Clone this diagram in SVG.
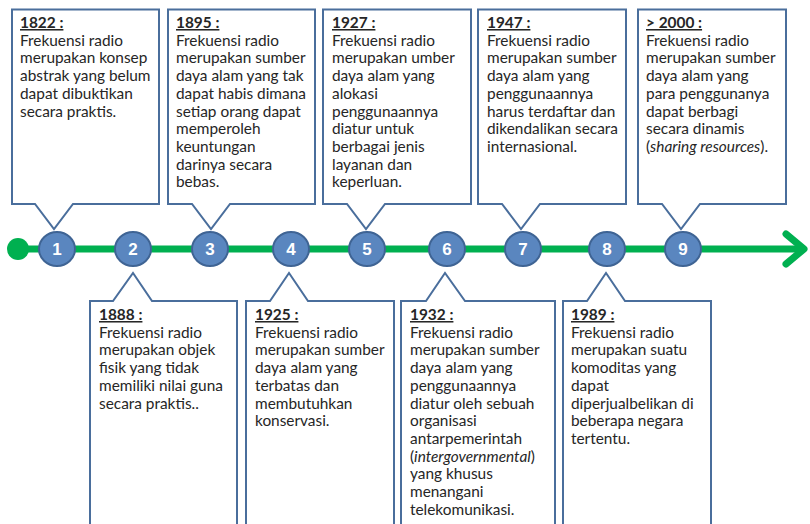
<svg xmlns="http://www.w3.org/2000/svg" width="810" height="524" viewBox="0 0 810 524">
<style>
.box{fill:#fff;stroke:#4a6e9c;stroke-width:2}
.t{font-family:Lato,"Liberation Sans",sans-serif;font-size:15.4px;fill:#262626}
.h{font-weight:bold;text-decoration:underline}
.c{fill:#5a86bf;stroke:#3f6494;stroke-width:2}
.n{font-family:"Liberation Sans",Arial,sans-serif;font-size:17px;font-weight:bold;fill:#fff;text-anchor:middle}
</style>
<rect width="810" height="524" fill="#fff"/>
<g id="connectors">
<line x1="18" y1="249" x2="804" y2="249" stroke="#00b050" stroke-width="7"/>
<polyline points="786,234 804,249 786,264" fill="none" stroke="#00b050" stroke-width="7" stroke-linecap="round" stroke-linejoin="round"/>
<circle cx="18" cy="249" r="11" fill="#00b050"/>
</g>
<g id="box1822">
<path class="box" d="M12,9.5H159V204H73L54,229L35,204H12Z"/>
<text class="t" x="20" y="28"><tspan class="h">1822 :</tspan><tspan x="20" dy="17.7">Frekuensi radio</tspan><tspan x="20" dy="17.7">merupakan konsep</tspan><tspan x="20" dy="17.7">abstrak yang belum</tspan><tspan x="20" dy="17.7">dapat dibuktikan</tspan><tspan x="20" dy="17.7">secara praktis.</tspan></text>
</g>
<g id="box1895">
<path class="box" d="M168,9.5H315V204H230L211,229L192,204H168Z"/>
<text class="t" x="176" y="28"><tspan class="h">1895 :</tspan><tspan x="176" dy="17.7">Frekuensi radio</tspan><tspan x="176" dy="17.7">merupakan sumber</tspan><tspan x="176" dy="17.7">daya alam yang tak</tspan><tspan x="176" dy="17.7">dapat habis dimana</tspan><tspan x="176" dy="17.7">setiap orang dapat</tspan><tspan x="176" dy="17.7">memperoleh</tspan><tspan x="176" dy="17.7">keuntungan</tspan><tspan x="176" dy="17.7">darinya secara</tspan><tspan x="176" dy="17.7">bebas.</tspan></text>
</g>
<g id="box1927">
<path class="box" d="M323,9.5H471V204H385L366,229L347,204H323Z"/>
<text class="t" x="332" y="28"><tspan class="h">1927 :</tspan><tspan x="332" dy="17.7">Frekuensi radio</tspan><tspan x="332" dy="17.7">merupakan umber</tspan><tspan x="332" dy="17.7">daya alam yang</tspan><tspan x="332" dy="17.7">alokasi</tspan><tspan x="332" dy="17.7">penggunaannya</tspan><tspan x="332" dy="17.7">diatur untuk</tspan><tspan x="332" dy="17.7">berbagai jenis</tspan><tspan x="332" dy="17.7">layanan dan</tspan><tspan x="332" dy="17.7">keperluan.</tspan></text>
</g>
<g id="box1947">
<path class="box" d="M478,9.5H626V204H540L521,229L502,204H478Z"/>
<text class="t" x="487" y="28"><tspan class="h">1947 :</tspan><tspan x="487" dy="17.7">Frekuensi radio</tspan><tspan x="487" dy="17.7">merupakan sumber</tspan><tspan x="487" dy="17.7">daya alam yang</tspan><tspan x="487" dy="17.7">penggunaannya</tspan><tspan x="487" dy="17.7">harus terdaftar dan</tspan><tspan x="487" dy="17.7">dikendalikan secara</tspan><tspan x="487" dy="17.7">internasional.</tspan></text>
</g>
<g id="box2000">
<path class="box" d="M638,9.5H786V204H700L681,229L662,204H638Z"/>
<text class="t" x="646" y="28"><tspan class="h">&gt; 2000 :</tspan><tspan x="646" dy="17.7">Frekuensi radio</tspan><tspan x="646" dy="17.7">merupakan sumber</tspan><tspan x="646" dy="17.7">daya alam yang</tspan><tspan x="646" dy="17.7">para penggunanya</tspan><tspan x="646" dy="17.7">dapat berbagi</tspan><tspan x="646" dy="17.7">secara dinamis</tspan><tspan x="646" dy="17.7">(<tspan font-style="italic">sharing resources</tspan>).</tspan></text>
</g>
<g id="box1888">
<path class="box" d="M90,530V301H113L133,273L152,301H237V530"/>
<text class="t" x="99" y="320"><tspan class="h">1888 :</tspan><tspan x="99" dy="17.7">Frekuensi radio</tspan><tspan x="99" dy="17.7">merupakan objek</tspan><tspan x="99" dy="17.7">fisik yang tidak</tspan><tspan x="99" dy="17.7">memiliki nilai guna</tspan><tspan x="99" dy="17.7">secara praktis..</tspan></text>
</g>
<g id="box1925">
<path class="box" d="M246,530V301H270L289,273L308,301H394V530"/>
<text class="t" x="255" y="320"><tspan class="h">1925 :</tspan><tspan x="255" dy="17.7">Frekuensi radio</tspan><tspan x="255" dy="17.7">merupakan sumber</tspan><tspan x="255" dy="17.7">daya alam yang</tspan><tspan x="255" dy="17.7">terbatas dan</tspan><tspan x="255" dy="17.7">membutuhkan</tspan><tspan x="255" dy="17.7">konservasi.</tspan></text>
</g>
<g id="box1932">
<path class="box" d="M401,530V301H426L445,273L465,301H555V530"/>
<text class="t" x="410" y="320"><tspan class="h">1932 :</tspan><tspan x="410" dy="17.7">Frekuensi radio</tspan><tspan x="410" dy="17.7">merupakan sumber</tspan><tspan x="410" dy="17.7">daya alam yang</tspan><tspan x="410" dy="17.7">penggunaannya</tspan><tspan x="410" dy="17.7">diatur oleh sebuah</tspan><tspan x="410" dy="17.7">organisasi</tspan><tspan x="410" dy="17.7">antarpemerintah</tspan><tspan x="410" dy="17.7">(<tspan font-style="italic">intergovernmental</tspan>)</tspan><tspan x="410" dy="17.7">yang khusus</tspan><tspan x="410" dy="17.7">menangani</tspan><tspan x="410" dy="17.7">telekomunikasi.</tspan></text>
</g>
<g id="box1989">
<path class="box" d="M563,530V301H587L606,273L625,301H711V530"/>
<text class="t" x="571" y="320"><tspan class="h">1989 :</tspan><tspan x="571" dy="17.7">Frekuensi radio</tspan><tspan x="571" dy="17.7">merupakan suatu</tspan><tspan x="571" dy="17.7">komoditas yang</tspan><tspan x="571" dy="17.7">dapat</tspan><tspan x="571" dy="17.7">diperjualbelikan di</tspan><tspan x="571" dy="17.7">beberapa negara</tspan><tspan x="571" dy="17.7">tertentu.</tspan></text>
</g>
<g id="n1"><ellipse class="c" cx="57" cy="249" rx="18" ry="17"/><text class="n" x="57" y="255">1</text></g>
<g id="n2"><ellipse class="c" cx="133" cy="249" rx="18" ry="17"/><text class="n" x="133" y="255">2</text></g>
<g id="n3"><ellipse class="c" cx="210" cy="249" rx="18" ry="17"/><text class="n" x="210" y="255">3</text></g>
<g id="n4"><ellipse class="c" cx="291" cy="249" rx="18" ry="17"/><text class="n" x="291" y="255">4</text></g>
<g id="n5"><ellipse class="c" cx="367" cy="249" rx="18" ry="17"/><text class="n" x="367" y="255">5</text></g>
<g id="n6"><ellipse class="c" cx="447" cy="249" rx="18" ry="17"/><text class="n" x="447" y="255">6</text></g>
<g id="n7"><ellipse class="c" cx="523" cy="249" rx="18" ry="17"/><text class="n" x="523" y="255">7</text></g>
<g id="n8"><ellipse class="c" cx="607" cy="249" rx="18" ry="17"/><text class="n" x="607" y="255">8</text></g>
<g id="n9"><ellipse class="c" cx="683" cy="249" rx="18" ry="17"/><text class="n" x="683" y="255">9</text></g>
</svg>
